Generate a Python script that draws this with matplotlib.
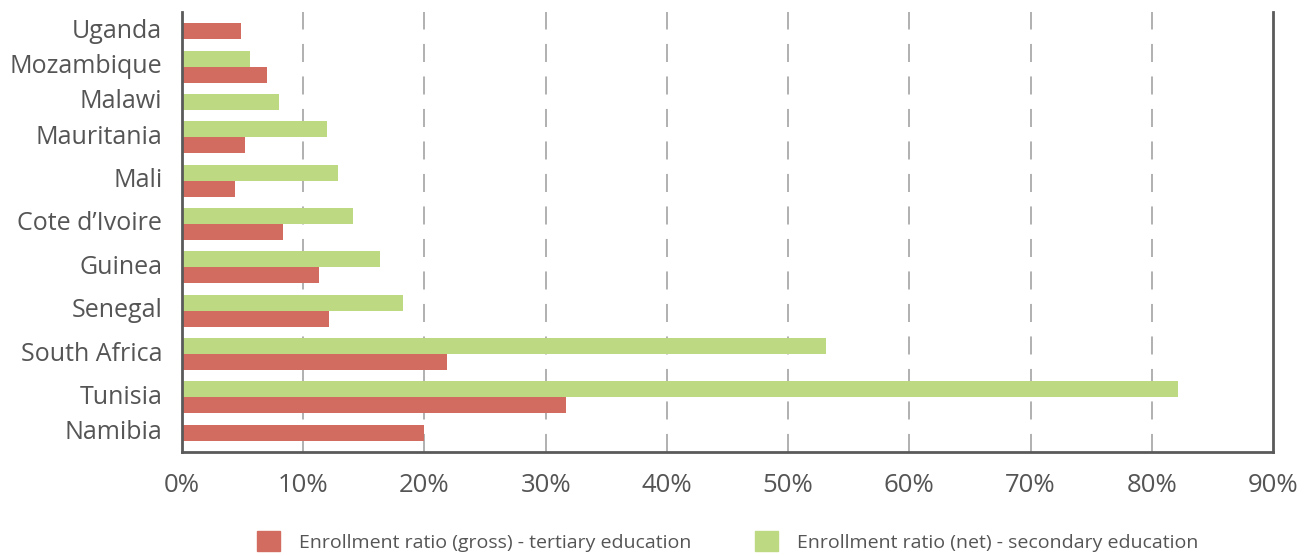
import matplotlib.pyplot as plt
import numpy as np

plt.rcParams['font.family'] = ['Open Sans', 'DejaVu Sans']

countries = ['Uganda', 'Mozambique', 'Malawi', 'Mauritania', 'Mali', "Cote d\u2019Ivoire",
             'Guinea', 'Senegal', 'South Africa', 'Tunisia', 'Namibia']
# secondary (net) enrollment, % - None where no bar is shown
secondary = [None, 5.6, 8.0, 12.0, 12.9, 14.1, 16.3, 18.2, 53.1, 82.2, None]
# tertiary (gross) enrollment, %
tertiary = [4.9, 7.0, None, 5.2, 4.4, 8.3, 11.3, 12.1, 21.9, 31.7, 20.0]

xticks = [0, 10, 20, 30, 40, 50, 60, 70, 80, 90]
lab_sec = 'Enrollment ratio (net) - secondary education'
lab_ter = 'Enrollment ratio (gross) - tertiary education'

red = '#d36c60'
green = '#bdd982'
txt = '#555555'

fig = plt.figure(figsize=(13.14, 5.56), dpi=100)
ax = fig.add_axes([182/1314, 1-452/556, (1273-182)/1314, (452-12)/556])

# stack the bars: each country takes as many bar slots as it has values
bh = 1.0
gap = 0.7
y = gap
for i, c in enumerate(countries):
    vals = [(secondary[i], green), (tertiary[i], red)]
    vals = [v for v in vals if v[0] is not None]
    n = len(vals)
    center = y + n*bh/2
    for k, (v, col) in enumerate(vals):
        ax.barh(y + k*bh + bh/2, v, height=bh, color=col, zorder=2)
    ax.text(-0.018, center, c, transform=ax.get_yaxis_transform(), ha='right', va='center',
            fontsize=18, color=txt)
    y += n*bh + gap

ax.set_ylim(y, 0)
ax.set_yticks([])
ax.set_xlim(0, 90)
ax.set_xticks(xticks)
ax.set_xticklabels([f'{t}%' for t in xticks], fontsize=18.5, color=txt)
ax.tick_params(axis='x', length=0, pad=15)

for t in xticks[1:-1]:
    ax.axvline(t, color='#aaaaaa', lw=1.3, dashes=(10, 8), zorder=1)

for s in ['left', 'bottom', 'right']:
    ax.spines[s].set_color('#5a5a5a')
    ax.spines[s].set_linewidth(2)
ax.spines['top'].set_visible(False)

h1 = plt.Rectangle((0, 0), 1, 1, color=red)
h2 = plt.Rectangle((0, 0), 1, 1, color=green)
leg = ax.legend([h1, h2], [lab_ter, lab_sec], loc='upper center', bbox_to_anchor=(0.5, -0.14),
                ncol=2, frameon=False, fontsize=14, handlelength=1.2, handleheight=1.2,
                handletextpad=0.95, columnspacing=3.3)
for t in leg.get_texts():
    t.set_color(txt)

plt.savefig('out.png', dpi=100)
